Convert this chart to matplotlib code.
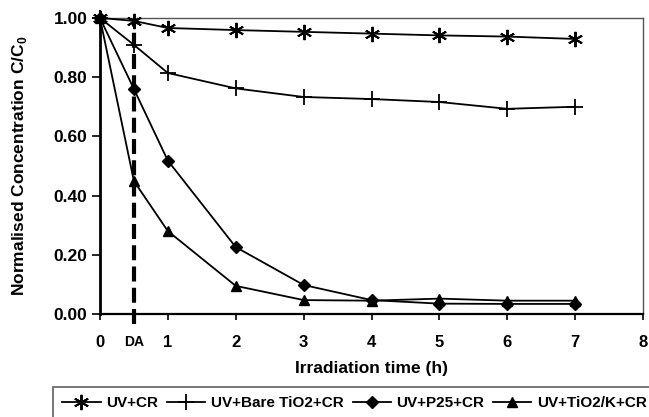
import matplotlib.pyplot as plt

plt.rcParams['font.family'] = ['Liberation Sans', 'DejaVu Sans']
plt.rcParams['font.weight'] = 'bold'

# irradiation time (h); 0.5 is the dark adsorption (DA) point
time_h = [0, 0.5, 1, 2, 3, 4, 5, 6, 7]
uv_cr = [1.00, 0.99, 0.966, 0.959, 0.953, 0.947, 0.941, 0.937, 0.929]
uv_bare_tio2 = [1.00, 0.909, 0.814, 0.762, 0.733, 0.726, 0.716, 0.693, 0.700]
uv_p25 = [1.00, 0.760, 0.518, 0.226, 0.098, 0.047, 0.035, 0.034, 0.034]
uv_tio2_k = [1.00, 0.449, 0.280, 0.095, 0.047, 0.045, 0.052, 0.045, 0.045]

series = [
    ("UV+CR", uv_cr, dict(marker=(6, 2, 0), markersize=11, markeredgewidth=1.4)),
    ("UV+Bare TiO2+CR", uv_bare_tio2, dict(marker='+', markersize=12, markeredgewidth=1.3)),
    ("UV+P25+CR", uv_p25, dict(marker='D', markersize=6)),
    ("UV+TiO2/K+CR", uv_tio2_k, dict(marker='^', markersize=7.5)),
]

x_ticks = [0, 0.5, 1, 2, 3, 4, 5, 6, 7, 8]
x_labels = ['0', 'DA', '1', '2', '3', '4', '5', '6', '7', '8']
y_ticks = [0.0, 0.2, 0.4, 0.6, 0.8, 1.0]

fig = plt.figure(figsize=(6.49, 4.17), dpi=100)
ax = fig.add_axes([0.154, 0.247, 0.837, 0.710])

for name, vals, style in series:
    ax.plot(time_h, vals, color='black', linewidth=1.3, label=name,
            markerfacecolor='black', markeredgecolor='black', clip_on=False,
            zorder=3, **style)

# dark adsorption marker line
ax.plot([0.5, 0.5], [-0.035, 1.0], color='black', linewidth=3,
        dashes=(3.6, 1.5), clip_on=False, zorder=2)

ax.set_xlim(0, 8)
ax.set_ylim(0, 1.0)
ax.set_xticks(x_ticks)
ax.set_xticklabels(x_labels)
ax.set_yticks(y_ticks)
ax.set_yticklabels([f"{v:.2f}" for v in y_ticks])
for lab in ax.get_xticklabels():
    lab.set_fontsize(10 if lab.get_text() == 'DA' else 12)
    lab.set_fontweight('bold')
for lab in ax.get_yticklabels():
    lab.set_fontsize(12.5)
    lab.set_fontweight('bold')
ax.tick_params(axis='x', direction='out', length=4, width=1.2, pad=11)
ax.tick_params(axis='y', direction='out', length=6, width=1.2, pad=3)

ax.spines['left'].set_linewidth(2)
ax.spines['bottom'].set_linewidth(1.6)
ax.spines['top'].set_color('#555555')
ax.spines['right'].set_color('#555555')
ax.spines['top'].set_linewidth(1)
ax.spines['right'].set_linewidth(1)

ax.set_xlabel('Irradiation time (h)', fontsize=12.5, fontweight='bold')
ax.xaxis.set_label_coords(0.5, -0.16)
ax.set_ylabel('Normalised Concentration C/C$_{\\mathregular{0}}$', fontsize=12.5,
              fontweight='bold')
ax.yaxis.set_label_coords(-0.13, 0.5)

leg = fig.legend(loc='upper left', bbox_to_anchor=(0.082, 0.072),
                 ncol=4, frameon=True, fancybox=False,
                 fontsize=11, handlelength=2.5, handletextpad=0.35,
                 columnspacing=0.6, borderaxespad=0, borderpad=0.6)
leg.get_frame().set_edgecolor('#555555')
leg.get_frame().set_linewidth(1.4)
for t in leg.get_texts():
    t.set_fontweight('bold')

fig.savefig('out.png', dpi=100)
